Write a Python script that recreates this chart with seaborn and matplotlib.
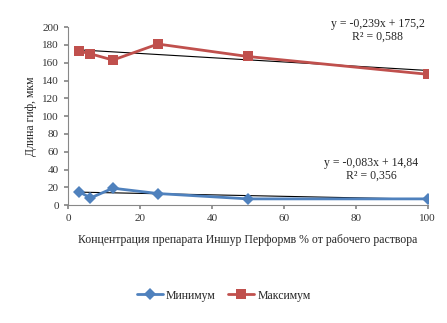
import numpy as np
import pandas as pd
import seaborn as sns
import matplotlib.pyplot as plt

# данные
conc = [3.125, 6.25, 12.5, 25, 50, 100]
min_len = [15, 8, 19, 13, 7, 7]
max_len = [173, 170, 163, 181, 167, 147]
# коэффициенты линий тренда (наклон, свободный член)
trend_min = [-0.083, 14.84]
trend_max = [-0.239, 175.2]

sns.set_theme(style='white')
plt.rcParams['font.family'] = ['Liberation Serif', 'DejaVu Serif']
plt.rcParams['axes.unicode_minus'] = False

df = pd.DataFrame({'x': conc * 2,
                   'y': min_len + max_len,
                   'серия': ['Минимум'] * 6 + ['Максимум'] * 6})

fig = plt.figure(figsize=(4.47, 3.23), dpi=100)
ax = fig.add_axes([0.152, 0.365, 0.805, 0.551])

palette = {'Минимум': '#4F81BD', 'Максимум': '#C0504D'}
sns.lineplot(data=df, x='x', y='y', hue='серия', style='серия',
             markers={'Минимум': 'D', 'Максимум': 's'}, dashes=False,
             palette=palette, linewidth=2, markersize=6.5,
             markeredgewidth=0, ax=ax)

# линии тренда
xs = np.array([conc[0], conc[-1]])
for k, b in (trend_min, trend_max):
    ax.plot(xs, k * xs + b, color='black', linewidth=0.8, zorder=1)

ax.set_xlim(0, 100)
ax.set_ylim(0, 200)
ax.set_xticks(range(0, 101, 20))
ax.set_yticks(range(0, 201, 20))
ax.tick_params(axis='both', labelsize=8, colors='#333333', length=3, direction='out')
ax.tick_params(axis='both', color='#888888', bottom=True, left=True)
for s in ['top', 'right']:
    ax.spines[s].set_visible(False)
for s in ['left', 'bottom']:
    ax.spines[s].set_color('#888888')
    ax.spines[s].set_linewidth(0.8)

ax.set_ylabel('Длина гиф, мкм', fontsize=8.5, labelpad=4)
ax.set_xlabel('Концентрация препарата Иншур Перформв % от рабочего раствора', fontsize=8.5, labelpad=8)

fig.text(0.845, 0.905, 'y = -0,239x + 175,2\nR² = 0,588', ha='center', va='center',
         fontsize=8.5, linespacing=1.1)
fig.text(0.83, 0.475, 'y = -0,083x + 14,84\nR² = 0,356', ha='center', va='center',
         fontsize=8.5, linespacing=1.1)

ax.get_legend().remove()
h, l = ax.get_legend_handles_labels()
fig.legend(h, l, loc='center', bbox_to_anchor=(0.5, 0.085), ncol=2, frameon=False,
           fontsize=8.5, handlelength=2.2, columnspacing=1.0, handletextpad=0.3)

fig.savefig('out.png', dpi=100)
